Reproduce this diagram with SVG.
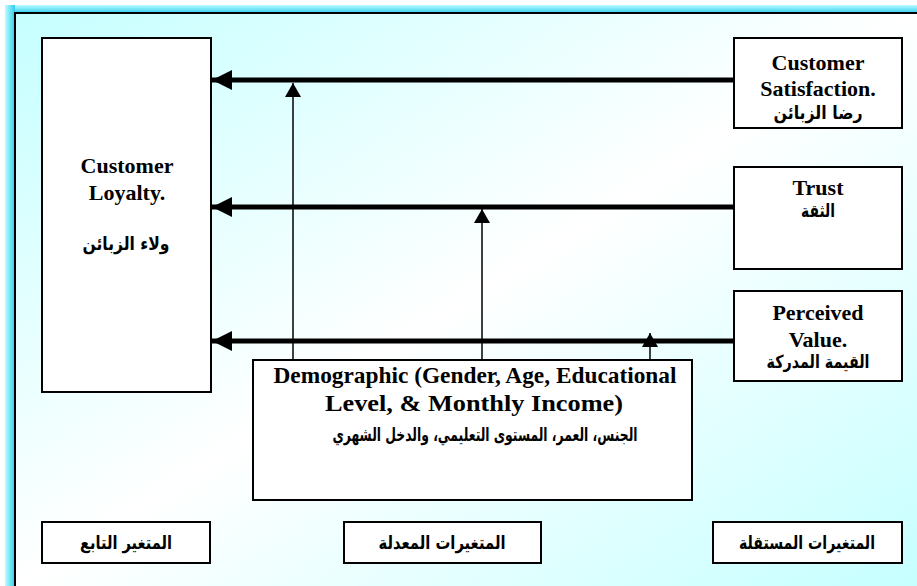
<svg xmlns="http://www.w3.org/2000/svg" width="917" height="586" viewBox="0 0 917 586">
<defs>
<linearGradient id="bg" x1="0" y1="0" x2="1" y2="1">
<stop offset="0" stop-color="#c6ffff"/>
<stop offset="0.5" stop-color="#ffffff"/>
<stop offset="1" stop-color="#c6ffff"/>
</linearGradient>
<linearGradient id="bandTop" x1="0" y1="0" x2="0" y2="1">
<stop offset="0" stop-color="#b8ffff"/>
<stop offset="1" stop-color="#33ccee"/>
</linearGradient>
<linearGradient id="bandLeft" x1="0" y1="0" x2="1" y2="0">
<stop offset="0" stop-color="#b8ffff"/>
<stop offset="1" stop-color="#33ccee"/>
</linearGradient>
<marker id="bigHead" markerUnits="userSpaceOnUse" markerWidth="20" markerHeight="20" viewBox="0 0 18 18" refX="18" refY="9" orient="auto">
<path d="M0,0 L18,9 L0,18 Z" fill="#000"/>
</marker>
<marker id="smallHead" markerUnits="userSpaceOnUse" markerWidth="16" markerHeight="16" viewBox="0 0 14 16" refX="14" refY="8" orient="auto">
<path d="M0,0 L14,8 L0,16 Z" fill="#000"/>
</marker>
<style>
.box{fill:#fff;stroke:#000;stroke-width:2}
.en{font-family:"Liberation Serif","Times New Roman",serif;font-weight:bold;font-size:22px;fill:#000;text-anchor:middle}
.big{font-size:24px}
.ar{font-family:"DejaVu Sans","Liberation Sans",sans-serif;font-weight:bold;font-size:18px;fill:#000;text-anchor:middle}
.thick{stroke:#000;stroke-width:5;fill:none;marker-end:url(#bigHead)}
.thin{stroke:#000;stroke-width:1.5;fill:none;marker-end:url(#smallHead)}
</style>
</defs>
<rect x="0" y="0" width="917" height="586" fill="#fff"/>
<rect x="16" y="14" width="901" height="572" fill="url(#bg)"/>
<rect x="5" y="5" width="912" height="8" fill="url(#bandTop)"/>
<rect x="5" y="5" width="10" height="581" fill="url(#bandLeft)"/>
<line x1="15" y1="13" x2="917" y2="13" stroke="#000" stroke-width="2"/>
<line x1="15" y1="12" x2="15" y2="586" stroke="#000" stroke-width="2"/>

<g id="connectors">
<line class="thick" x1="734" y1="80" x2="212" y2="80"/>
<line class="thick" x1="734" y1="207" x2="212" y2="207"/>
<line class="thick" x1="734" y1="341" x2="212" y2="341"/>
<line class="thin" x1="293" y1="360" x2="293" y2="83"/>
<line class="thin" x1="482" y1="360" x2="482" y2="209"/>
<line class="thin" x1="650" y1="360" x2="650" y2="333"/>
</g>

<g id="loyalty">
<rect class="box" x="42" y="38" width="169" height="354"/>
<text class="en" x="127" y="173">Customer</text>
<text class="en" x="127" y="200">Loyalty.</text>
<text class="ar" x="126" y="250" textLength="87" lengthAdjust="spacingAndGlyphs">ولاء الزبائن</text>
</g>

<g id="satisfaction">
<rect class="box" x="734" y="38" width="168" height="90"/>
<text class="en" x="818" y="70">Customer</text>
<text class="en" x="818" y="96">Satisfaction.</text>
<text class="ar" x="818" y="119" textLength="89" lengthAdjust="spacingAndGlyphs">رضا الزبائن</text>
</g>

<g id="trust">
<rect class="box" x="734" y="167" width="168" height="102"/>
<text class="en" x="818" y="195">Trust</text>
<text class="ar" x="818" y="217" textLength="34" lengthAdjust="spacingAndGlyphs">الثقة</text>
</g>

<g id="value">
<rect class="box" x="734" y="291" width="168" height="90"/>
<text class="en" x="818" y="320">Perceived</text>
<text class="en" x="818" y="347">Value.</text>
<text class="ar" x="818" y="368" textLength="103" lengthAdjust="spacingAndGlyphs">القيمة المدركة</text>
</g>

<g id="demographic">
<rect class="box" x="253" y="360" width="439" height="140"/>
<text class="en big" x="475" y="383" textLength="403" lengthAdjust="spacingAndGlyphs">Demographic (Gender, Age, Educational</text>
<text class="en big" x="474" y="411" textLength="298" lengthAdjust="spacingAndGlyphs">Level, &amp; Monthly Income)</text>
<text class="ar" x="485" y="441" textLength="305" lengthAdjust="spacingAndGlyphs">الجنس، العمر، المستوى التعليمي، والدخل الشهري</text>
</g>

<g id="label-dependent">
<rect class="box" x="42" y="522" width="168" height="41"/>
<text class="ar" x="126" y="549" textLength="92" lengthAdjust="spacingAndGlyphs">المتغير التابع</text>
</g>

<g id="label-moderating">
<rect class="box" x="344" y="522" width="197" height="41"/>
<text class="ar" x="442" y="549" textLength="127" lengthAdjust="spacingAndGlyphs">المتغيرات المعدلة</text>
</g>

<g id="label-independent">
<rect class="box" x="713" y="522" width="189" height="41"/>
<text class="ar" x="807" y="549" textLength="136" lengthAdjust="spacingAndGlyphs">المتغيرات المستقلة</text>
</g>
</svg>
